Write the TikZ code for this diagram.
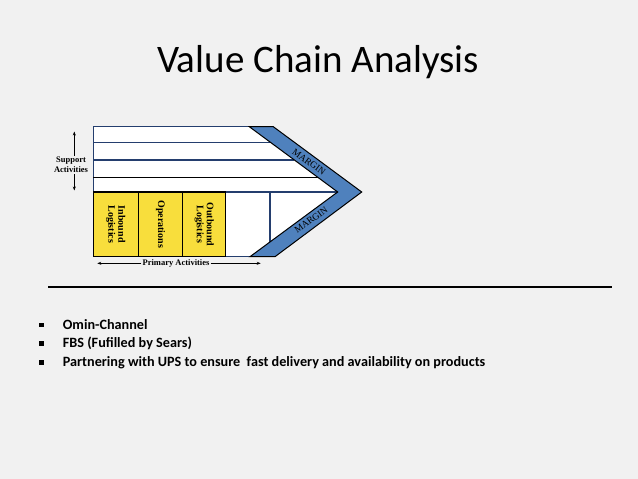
\documentclass[tikz,border=0pt]{standalone}
\usepackage{fontspec}
\setmainfont{Carlito}
\newfontfamily\tnr{Liberation Serif}
\usetikzlibrary{arrows.meta}
\definecolor{bgc}{RGB}{241,241,241}
\definecolor{lineblue}{RGB}{36,62,110}
\definecolor{margblue}{RGB}{79,129,189}
\definecolor{boxyellow}{RGB}{248,222,60}
\tikzset{
  bluel/.style={draw=lineblue, line width=1.3pt},
  blackl/.style={draw=black, line width=1.4pt},
  ybox/.style={fill=boxyellow, draw=black, line width=1.4pt},
  vtext/.style={rotate=-90, align=center, font=\tnr\bfseries\fontsize{10}{10}\selectfont, inner sep=0pt},
  stext/.style={align=center, font=\tnr\bfseries\fontsize{8.5}{10}\selectfont, inner sep=1pt},
  mtext/.style={font=\tnr\fontsize{9.5}{10}\selectfont, inner sep=0pt},
  arr/.style={-{Stealth[length=4pt,width=3pt]}, line width=0.6pt},
  bullettext/.style={anchor=west, font=\bfseries\fontsize{14.2}{16}\selectfont, inner sep=0pt},
  bulletsq/.style={fill=black, minimum size=4.5pt, inner sep=0pt},
}
\begin{document}
\begin{tikzpicture}[x=1pt,y=-1pt]
\fill[bgc] (0,0) rectangle (638,479);
\useasboundingbox (0,0) rectangle (638,479);

% title
\node[anchor=base, font=\fontsize{39}{44}\selectfont, inner sep=0pt] (title) at (318,72.7) {Value Chain Analysis};

% white body
\fill[white] (93.3,126.7) -- (249.3,126.7) -- (337.7,192) -- (250,256.7) -- (93.3,256.7) -- cycle;

% support activity lines
\draw[bluel] (93.3,192) -- (93.3,126.7) -- (249.3,126.7);
\draw[bluel] (93.3,142.7) -- (271.0,142.7);
\draw[bluel] (93.3,160) -- (294.4,160);
\draw[blackl] (93.3,177.3) -- (317.8,177.3);
\draw[bluel] (93.3,192) -- (337.7,192);

% primary activity boxes
\draw[bluel] (225.7,256.7) -- (250,256.7);
\draw[bluel] (270,192) -- (270,242);
\draw[ybox] (93.3,192) rectangle (138.3,256.7);
\draw[ybox] (138.3,192) rectangle (182.7,256.7);
\draw[ybox] (182.7,192) rectangle (225.7,256.7);

\node[vtext] (inb) at (115.8,224.3) {Inbound\\Logistics};
\node[vtext] (ops) at (160.5,224.3) {Operations};
\node[vtext] (outb) at (204.2,224.3) {Outbound\\Logistics};

% margin chevron
\draw[fill=margblue, draw=black, line width=1pt, line join=miter]
  (249.3,126.7) -- (273.3,126.7) -- (361.7,192) -- (275,256.7) -- (250,256.7) -- (337.7,192) -- cycle;
\node[mtext, rotate=-36.4] (m1) at (309,162) {MARGIN};
\node[mtext, rotate=36.4] (m2) at (311,220) {MARGIN};

% support activities label and arrows
\node[stext] (sup) at (71,165) {Support\\Activities};
\coordinate (supTop) at (74.3,131.5);
\coordinate (supBot) at (74.3,190.5);
\draw[arr] (sup.north -| supTop) -- (supTop);
\draw[arr] (sup.south -| supBot) -- (supBot);

% primary activities label and arrows
\node[stext] (prim) at (176,263.3) {Primary Activities};
\coordinate (primL) at (97.3,263.3);
\coordinate (primR) at (260.7,263.3);
\draw[arr] (prim.west) -- (primL);
\draw[arr] (prim.east) -- (primR);

% rule
\coordinate (ruleL) at (48,286.7);
\coordinate (ruleR) at (611.7,286.7);
\draw[line width=1.6pt] (ruleL) -- (ruleR);

% bullets
\node[bulletsq] (b1) at (41.7,325) {};
\node[bulletsq] (b2) at (41.7,343.3) {};
\node[bulletsq] (b3) at (41.7,362.3) {};
\node[bullettext] (t1) at (62.7,325) {Omin-Channel};
\node[bullettext] (t2) at (62.7,343.3) {FBS (Fufilled by Sears)};
\node[bullettext] (t3) at (62.7,362.3) {Partnering with UPS to ensure~ fast delivery and availability on products};
\end{tikzpicture}
\end{document}
